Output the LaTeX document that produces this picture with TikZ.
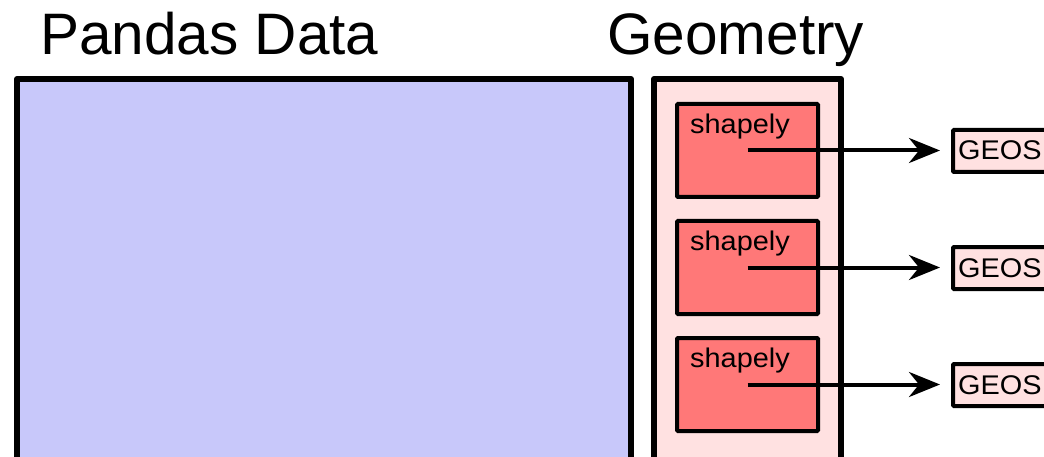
\documentclass[tikz,border=0pt]{standalone}
\usepackage{fontspec}
\usepackage{graphicx}
\setmainfont{Liberation Sans}
\usetikzlibrary{arrows.meta}
\definecolor{pandasfill}{RGB}{200,200,250}
\definecolor{geomfill}{RGB}{255,225,225}
\definecolor{shapelyfill}{RGB}{255,120,120}
\newcommand{\smalltxt}[1]{\scalebox{1.07}[1]{\fontsize{27}{32}\selectfont #1}}
\tikzset{
  bigbox/.style={draw=black, line width=6pt, inner sep=0pt, line join=round},
  shapebox/.style={draw=black, fill=shapelyfill, line width=4pt, inner sep=0pt,
    minimum width=141pt, minimum height=93pt, rounded corners=1pt},
  geosbox/.style={draw=black, fill=geomfill, line width=4pt, inner sep=0pt,
    minimum width=157pt, minimum height=42pt, rounded corners=1pt},
  title/.style={anchor=base west, inner sep=0pt, font=\fontsize{58.5}{70}\selectfont},
  lbl/.style={anchor=base west, inner sep=0pt},
  link/.style={line width=4pt, -{Stealth[length=31pt, width=25pt, inset=10pt]}, shorten >=11pt}
}
\begin{document}
\begin{tikzpicture}[x=1pt, y=-1pt]
  \useasboundingbox (0,0) rectangle (1044,457);
  \clip (0,0) rectangle (1044,457);

  % titles
  \node[title] (tpd) at (40,55) {Pandas Data};
  \node[title] (tgeo) at (607,55) {Geometry};

  % data frame body and geometry column
  \node[bigbox, fill=pandasfill, minimum width=614pt, minimum height=441pt] (pd) at (324,299.5) {};
  \node[bigbox, fill=geomfill, minimum width=187pt, minimum height=441pt] (geo) at (747.5,299.5) {};

  % shapely objects pointing at their GEOS counterparts
  \foreach \i/\dy in {1/0, 2/117, 3/234} {
    \node[shapebox] (s\i) at (747.5,150.5+\dy) {};
    \node[lbl] (st\i) at (690,133.5+\dy) {\smalltxt{shapely}};
    \node[geosbox] (g\i) at (1031.5,151+\dy) {};
    \node[lbl] (gt\i) at (958,160+\dy) {\smalltxt{GEOS}};
    \draw[link] (s\i.center) -- (s\i.center -| g\i.west);
  }
\end{tikzpicture}
\end{document}
